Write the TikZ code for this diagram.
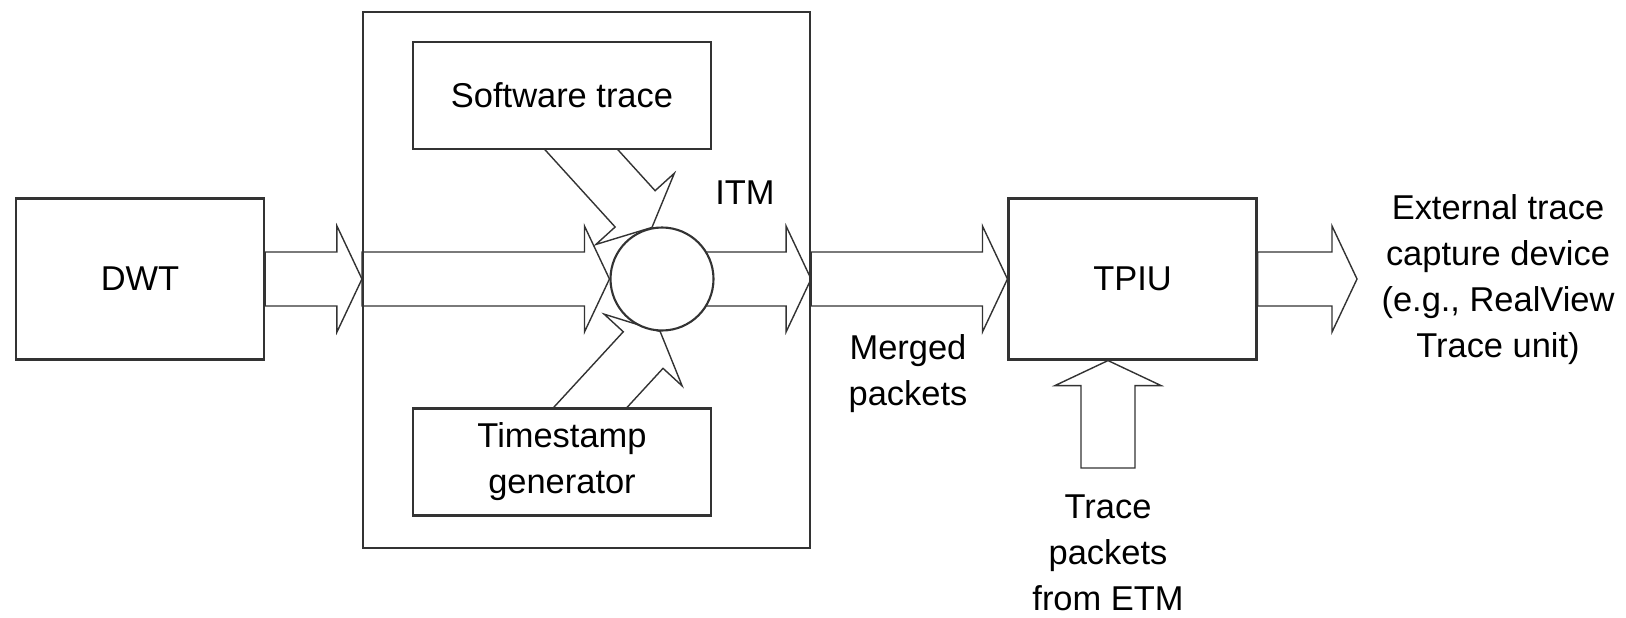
\documentclass[tikz,border=0pt]{standalone}
\usepackage{fontspec}
\setmainfont{Liberation Sans}
\usetikzlibrary{calc,positioning,backgrounds}

\begin{document}
\begin{tikzpicture}[
  font=\fontsize{9.8pt}{13.1pt}\selectfont,
  line width=0.6pt,
  box/.style={draw=black!80, fill=white, inner sep=0pt, align=center},
  unit/.style={box, minimum width=2.48cm, minimum height=1.61cm},
  sub/.style={box, minimum width=2.98cm, minimum height=1.07cm},
  frame/.style={draw=black!80, inner sep=0pt,
                minimum width=4.47cm, minimum height=5.36cm},
  merger/.style={circle, draw=black!80, fill=white,
                 minimum size=1.03cm, inner sep=0pt},
  txt/.style={align=center, inner sep=0pt},
  % hollow block arrow from start to target
  blockarrow/.style={draw=black!80, line join=miter, to path={
    let \p1=($(\tikztotarget)-(\tikztostart)$),
        \n1={atan2(\y1,\x1)},
        \n2={veclen(\x1,\y1)-0.25cm}
    in ($(\tikztostart)+({\n1+90}:0.27cm)$)
    -- ++({\n1}:\n2) -- ++({\n1+90}:0.26cm) -- (\tikztotarget)
    -- ($(\tikztostart)+({\n1}:\n2)+({\n1-90}:0.53cm)$)
    -- ++({\n1+90}:0.26cm)
    -- ($(\tikztostart)+({\n1-90}:0.27cm)$) -- cycle}}
]
\useasboundingbox (0,0) rectangle (16.26,6.17);

% ==================== Blocks ====================
\node[unit] (dwt) at (1.40,3.38) {DWT};
\node[frame] (itm) at (5.865,3.37) {};
\node[sub] (swtrace) at (5.62,5.215) {Software trace};
\node[sub] (tsgen) at (5.62,1.55) {Timestamp\\generator};
\node[merger] (merge) at (6.62,3.38) {};
\node[unit] (tpiu) at (11.325,3.38) {TPIU};

% ==================== Labels ====================
\node[txt] (itmlbl) at (7.45,4.24) {ITM};
\node[txt] (merged) at (9.08,2.43) {Merged\\packets};
\node[txt] (ext) at (14.98,3.37)
  {External trace\\capture device\\(e.g., RealView\\Trace unit)};
\node[txt] (etm) at (11.08,0.64) {Trace\\packets\\from ETM};

% free ends of the arrows
\coordinate (swin) at (5.548,4.966);
\coordinate (tsin) at (5.636,1.805);
\coordinate (extout) at (13.57,3.38);
\coordinate (etmin) at (11.08,1.49);

% ==================== Data flow ====================
\begin{scope}[on background layer]
  \draw[blockarrow] (dwt.east) to (dwt.east -| itm.west);
  \draw[blockarrow] (dwt.east -| itm.west) to (merge.west);
  \draw[blockarrow] (swin) to (merge.101);
  \draw[blockarrow] (tsin) to (merge.268);
  \draw[blockarrow] (merge.center) to (merge.center -| itm.east);
  \draw[blockarrow] (merge.center -| itm.east) to (merge.center -| tpiu.west);
  \draw[blockarrow] (tpiu.east) to (extout);
  \draw[blockarrow] (etmin) to (etmin |- tpiu.south);
\end{scope}

\end{tikzpicture}
\end{document}
